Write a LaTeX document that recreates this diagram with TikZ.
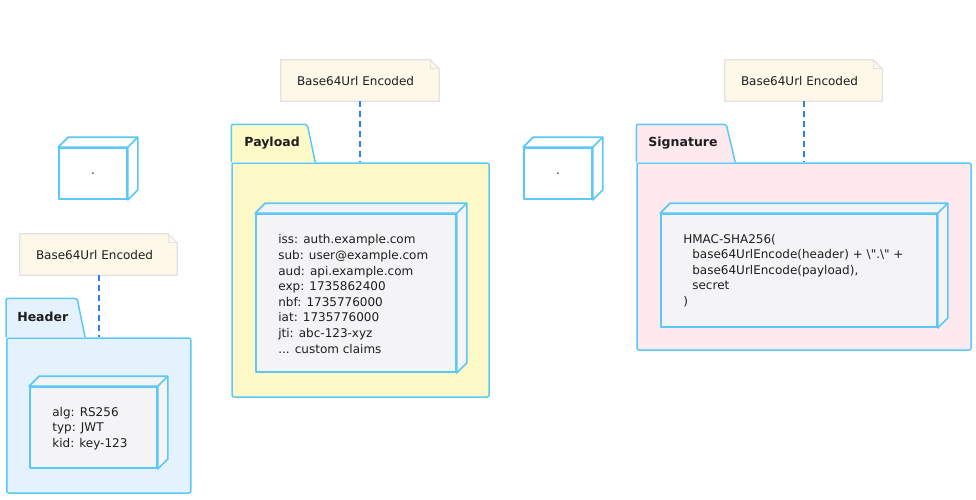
\documentclass[tikz,border=0pt]{standalone}
\usepackage{fontspec}
\setmainfont{DejaVu Sans}[Ligatures=TeXOff]
\usetikzlibrary{calc}
\definecolor{edge}{HTML}{5BC8F7}
\definecolor{hdrfill}{HTML}{E3F2FC}
\definecolor{payfill}{HTML}{FEF9C9}
\definecolor{sigfill}{HTML}{FDE9EE}
\definecolor{innerfill}{HTML}{F4F4F6}
\definecolor{notefill}{HTML}{FEF8E8}
\definecolor{noteedge}{HTML}{E2E2E2}
\definecolor{dashcol}{HTML}{2B7FEF}
\definecolor{txtcol}{HTML}{1E1E1E}
\newcommand\cubefaces[2]{%
  \draw[cubeline, fill=#2] (#1.north west) -- ($(#1.north west)+(10,-10)$) -- ($(#1.north east)+(10,-10)$) -- ($(#1.south east)+(10,-10)$) -- (#1.south east) -- (#1.north east) -- cycle;
  \draw[cubeline] (#1.north east) -- ($(#1.north east)+(10,-10)$);}
\newcommand\noteshape[1]{%
  \draw[noteline, fill=notefill] (#1.north west) -- ($(#1.north east)+(-9,0)$) -- ($(#1.north east)+(0,9)$) -- (#1.south east) -- (#1.south west) -- cycle;
  \draw[noteline] ($(#1.north east)+(-9,0)$) -- ($(#1.north east)+(-9,9)$) -- ($(#1.north east)+(0,9)$);}
\begin{document}
\begin{tikzpicture}[x=1pt,y=-1pt,
  pkgline/.style={draw=edge, line width=1.5pt, rounded corners=2pt},
  pkgbody/.style={pkgline, rectangle, inner sep=0pt},
  cubeline/.style={draw=edge, line width=1.7pt, line join=round},
  cubefront/.style={cubeline, rectangle, inner sep=0pt},
  noteline/.style={draw=noteedge, line width=1.2pt},
  notebox/.style={rectangle, inner sep=0pt, minimum width=157pt, minimum height=41pt},
  txt/.style={font=\fontsize{12}{15.6}\selectfont, text=txtcol, align=left, inner sep=0pt, anchor=west},
  tabtxt/.style={font=\fontsize{12.5}{15}\selectfont\bfseries, text=txtcol, inner sep=0pt, anchor=west},
  conn/.style={draw=dashcol, line width=2pt, dash pattern=on 6pt off 4pt}]
\useasboundingbox (0,0) rectangle (976,499);

% ---------- small boxes ----------
\node[cubefront, fill=white, minimum width=68pt, minimum height=51pt] (d1) at (93,173.5) {};
\cubefaces{d1}{white}
\node[font=\fontsize{12}{15}\selectfont, text=txtcol] (d1t) at (d1.center) {.};
\node[cubefront, fill=white, minimum width=68pt, minimum height=51pt] (d2) at (558,173.5) {};
\cubefaces{d2}{white}
\node[font=\fontsize{12}{15}\selectfont, text=txtcol] (d2t) at (d2.center) {.};

% ---------- Header ----------
\node[pkgbody, fill=hdrfill, minimum width=184pt, minimum height=155pt] (hbody) at (98.85,415.5) {};
\draw[pkgline, fill=hdrfill] (hbody.north west) -- ++(0,-39) -- ++(71,0) -- ++(8,39);
\node[tabtxt] (hlab) at ($(hbody.north west)+(11,-20)$) {Header};
\node[cubefront, fill=innerfill, minimum width=127pt, minimum height=81pt] (hbox) at (93.5,427.5) {};
\cubefaces{hbox}{innerfill}
\node[txt] (htxt) at ($(hbox.west)+(23,1)$) {alg: RS256\\typ: JWT\\kid: key-123};
\node[notebox] (hn) at (98.5,254.5) {};
\noteshape{hn}
\node[txt] (hnt) at ($(hn.west)+(16,0.5)$) {Base64Url Encoded};
\draw[conn] (hn.south) -- (hn.south |- hbody.north);

% ---------- Payload ----------
\node[pkgbody, fill=payfill, minimum width=257pt, minimum height=234pt] (pbody) at (360.5,280) {};
\draw[pkgline, fill=payfill] (pbody.north west) -- ++(0,-38) -- ++(76,0) -- ++(8,38);
\node[tabtxt] (plab) at ($(pbody.north west)+(13,-19)$) {Payload};
\node[cubefront, fill=innerfill, minimum width=200pt, minimum height=158pt] (pbox) at (356,293) {};
\cubefaces{pbox}{innerfill}
\node[txt] (ptxt) at ($(pbox.west)+(23,1)$) {iss: auth.example.com\\sub: user@example.com\\aud: api.example.com\\exp: 1735862400\\nbf: 1735776000\\iat: 1735776000\\jti: abc-123-xyz\\... custom claims};
\node[notebox, minimum width=158pt] (pn) at (360,80.5) {};
\noteshape{pn}
\node[txt] (pnt) at ($(pn.west)+(16,0.5)$) {Base64Url Encoded};
\draw[conn] (pn.south) -- (pn.south |- pbody.north);

% ---------- Signature ----------
\node[pkgbody, fill=sigfill, minimum width=334pt, minimum height=187pt] (sbody) at (804,256.5) {};
\draw[pkgline, fill=sigfill] (sbody.north west) -- ++(0,-38) -- ++(90,0) -- ++(9,38);
\node[tabtxt] (slab) at ($(sbody.north west)+(12,-19)$) {Signature};
\node[cubefront, fill=innerfill, minimum width=276pt, minimum height=113pt] (sbox) at (799,270.5) {};
\cubefaces{sbox}{innerfill}
\node[txt] (stxt) at ($(sbox.west)+(23,0)$) {HMAC-SHA256(\\\hspace*{9pt}base64UrlEncode(header) + \textbackslash".\textbackslash" +\\\hspace*{9pt}base64UrlEncode(payload),\\\hspace*{9pt}secret\\)};
\node[notebox] (sn) at (803.5,80.5) {};
\noteshape{sn}
\node[txt] (snt) at ($(sn.west)+(16,0.5)$) {Base64Url Encoded};
\draw[conn] (sn.south) -- (sn.south |- sbody.north);
\end{tikzpicture}
\end{document}
